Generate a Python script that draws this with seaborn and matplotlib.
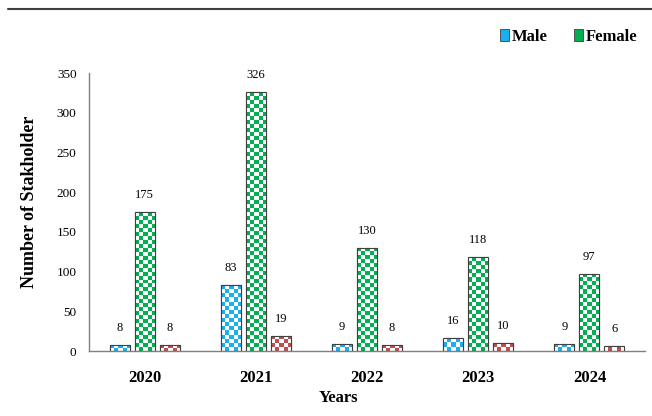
import numpy as np
import pandas as pd
import matplotlib
matplotlib.use('Agg')
import matplotlib.pyplot as plt
import seaborn as sns
from matplotlib.lines import Line2D
from matplotlib.patches import Patch, Rectangle

years = ['2020', '2021', '2022', '2023', '2024']
male = [8, 83, 9, 16, 9]
female = [175, 326, 130, 118, 97]
other = [8, 19, 8, 10, 6]

groups = ['Male', 'Female', 'Other']
colors = {'Male': '#1AAFEF', 'Female': '#00B050', 'Other': '#C0504D'}

df = pd.DataFrame({
    'Year': years * 3,
    'Group': ['Male'] * 5 + ['Female'] * 5 + ['Other'] * 5,
    'Count': male + female + other,
})

sns.set_style('white')
plt.rcParams['font.family'] = ['Liberation Serif']
for k in ['text.color', 'axes.labelcolor', 'xtick.color', 'ytick.color']:
    plt.rcParams[k] = 'black'

fig = plt.figure(figsize=(6.52, 4.16), dpi=100)
ax = fig.add_axes([89 / 652, 65 / 416, 556 / 652, 278 / 416])

sns.barplot(data=df, x='Year', y='Count', hue='Group', hue_order=groups,
            palette=colors, width=0.675, gap=0.2, ax=ax, legend=False,
            edgecolor='#404040', linewidth=0.8, saturation=1)

ax.set_ylim(0, 350)
ax.set_xlim(-0.5, 4.5)

# checkerboard fill: white squares on top of each bar
cell_x = 4 / (556 / 5)
cell_y = 4 / (278 / 350)
bars = [p for p in ax.patches if isinstance(p, Rectangle)]
for p in bars:
    x0, w, h = p.get_x(), p.get_width(), p.get_height()
    if h <= 0:
        continue
    nx = max(1, int(round(w / cell_x)))
    ny = max(1, int(round(h / cell_y)))
    arr = np.zeros((ny, nx, 4))
    ii, jj = np.indices((ny, nx))
    mask = (ii + jj) % 2 == 0
    arr[mask] = [1, 1, 1, 1]
    ax.imshow(arr, extent=(x0, x0 + w, 0, h), aspect='auto',
              interpolation='nearest', zorder=p.get_zorder() + 0.1, origin='lower')
    ax.add_patch(Rectangle((x0, 0), w, h, fill=False, edgecolor='#404040',
                           linewidth=0.8, zorder=p.get_zorder() + 0.2))

ax.set_ylim(0, 350)
ax.set_xlim(-0.5, 4.5)

for cont in ax.containers:
    ax.bar_label(cont, padding=8, fontsize=9)

ax.set_yticks(range(0, 351, 50))
ax.tick_params(axis='y', length=0, pad=9, labelsize=9.5)
ax.tick_params(axis='x', length=0, pad=14, labelsize=12)
for t in ax.get_xticklabels():
    t.set_fontweight('bold')

sns.despine(ax=ax)
for s in ['left', 'bottom']:
    ax.spines[s].set_color('#808080')
    ax.spines[s].set_linewidth(1)

ax.set_xlabel('Years', fontsize=12, fontweight='bold')
ax.set_ylabel('Number of Stakholder', fontsize=13, fontweight='bold')
ax.xaxis.set_label_coords((338 - 89) / 556, -0.14)
ax.yaxis.set_label_coords(-0.092, 0.536)

handles = [Patch(facecolor=colors[g], edgecolor='#404040', linewidth=0.6) for g in ['Male', 'Female']]
fig.legend(handles, ['Male', 'Female'], loc='center', ncol=2, frameon=False,
           bbox_to_anchor=(569 / 652, 1 - 37 / 416), handlelength=0.5, handleheight=0.7,
           handletextpad=0.2, columnspacing=1.6, prop={'weight': 'bold', 'size': 12})

fig.add_artist(Line2D([8 / 652, 1], [1 - 9 / 416, 1 - 9 / 416], color='#404040',
                      linewidth=1.5, transform=fig.transFigure))

fig.savefig('out.png', dpi=100)
